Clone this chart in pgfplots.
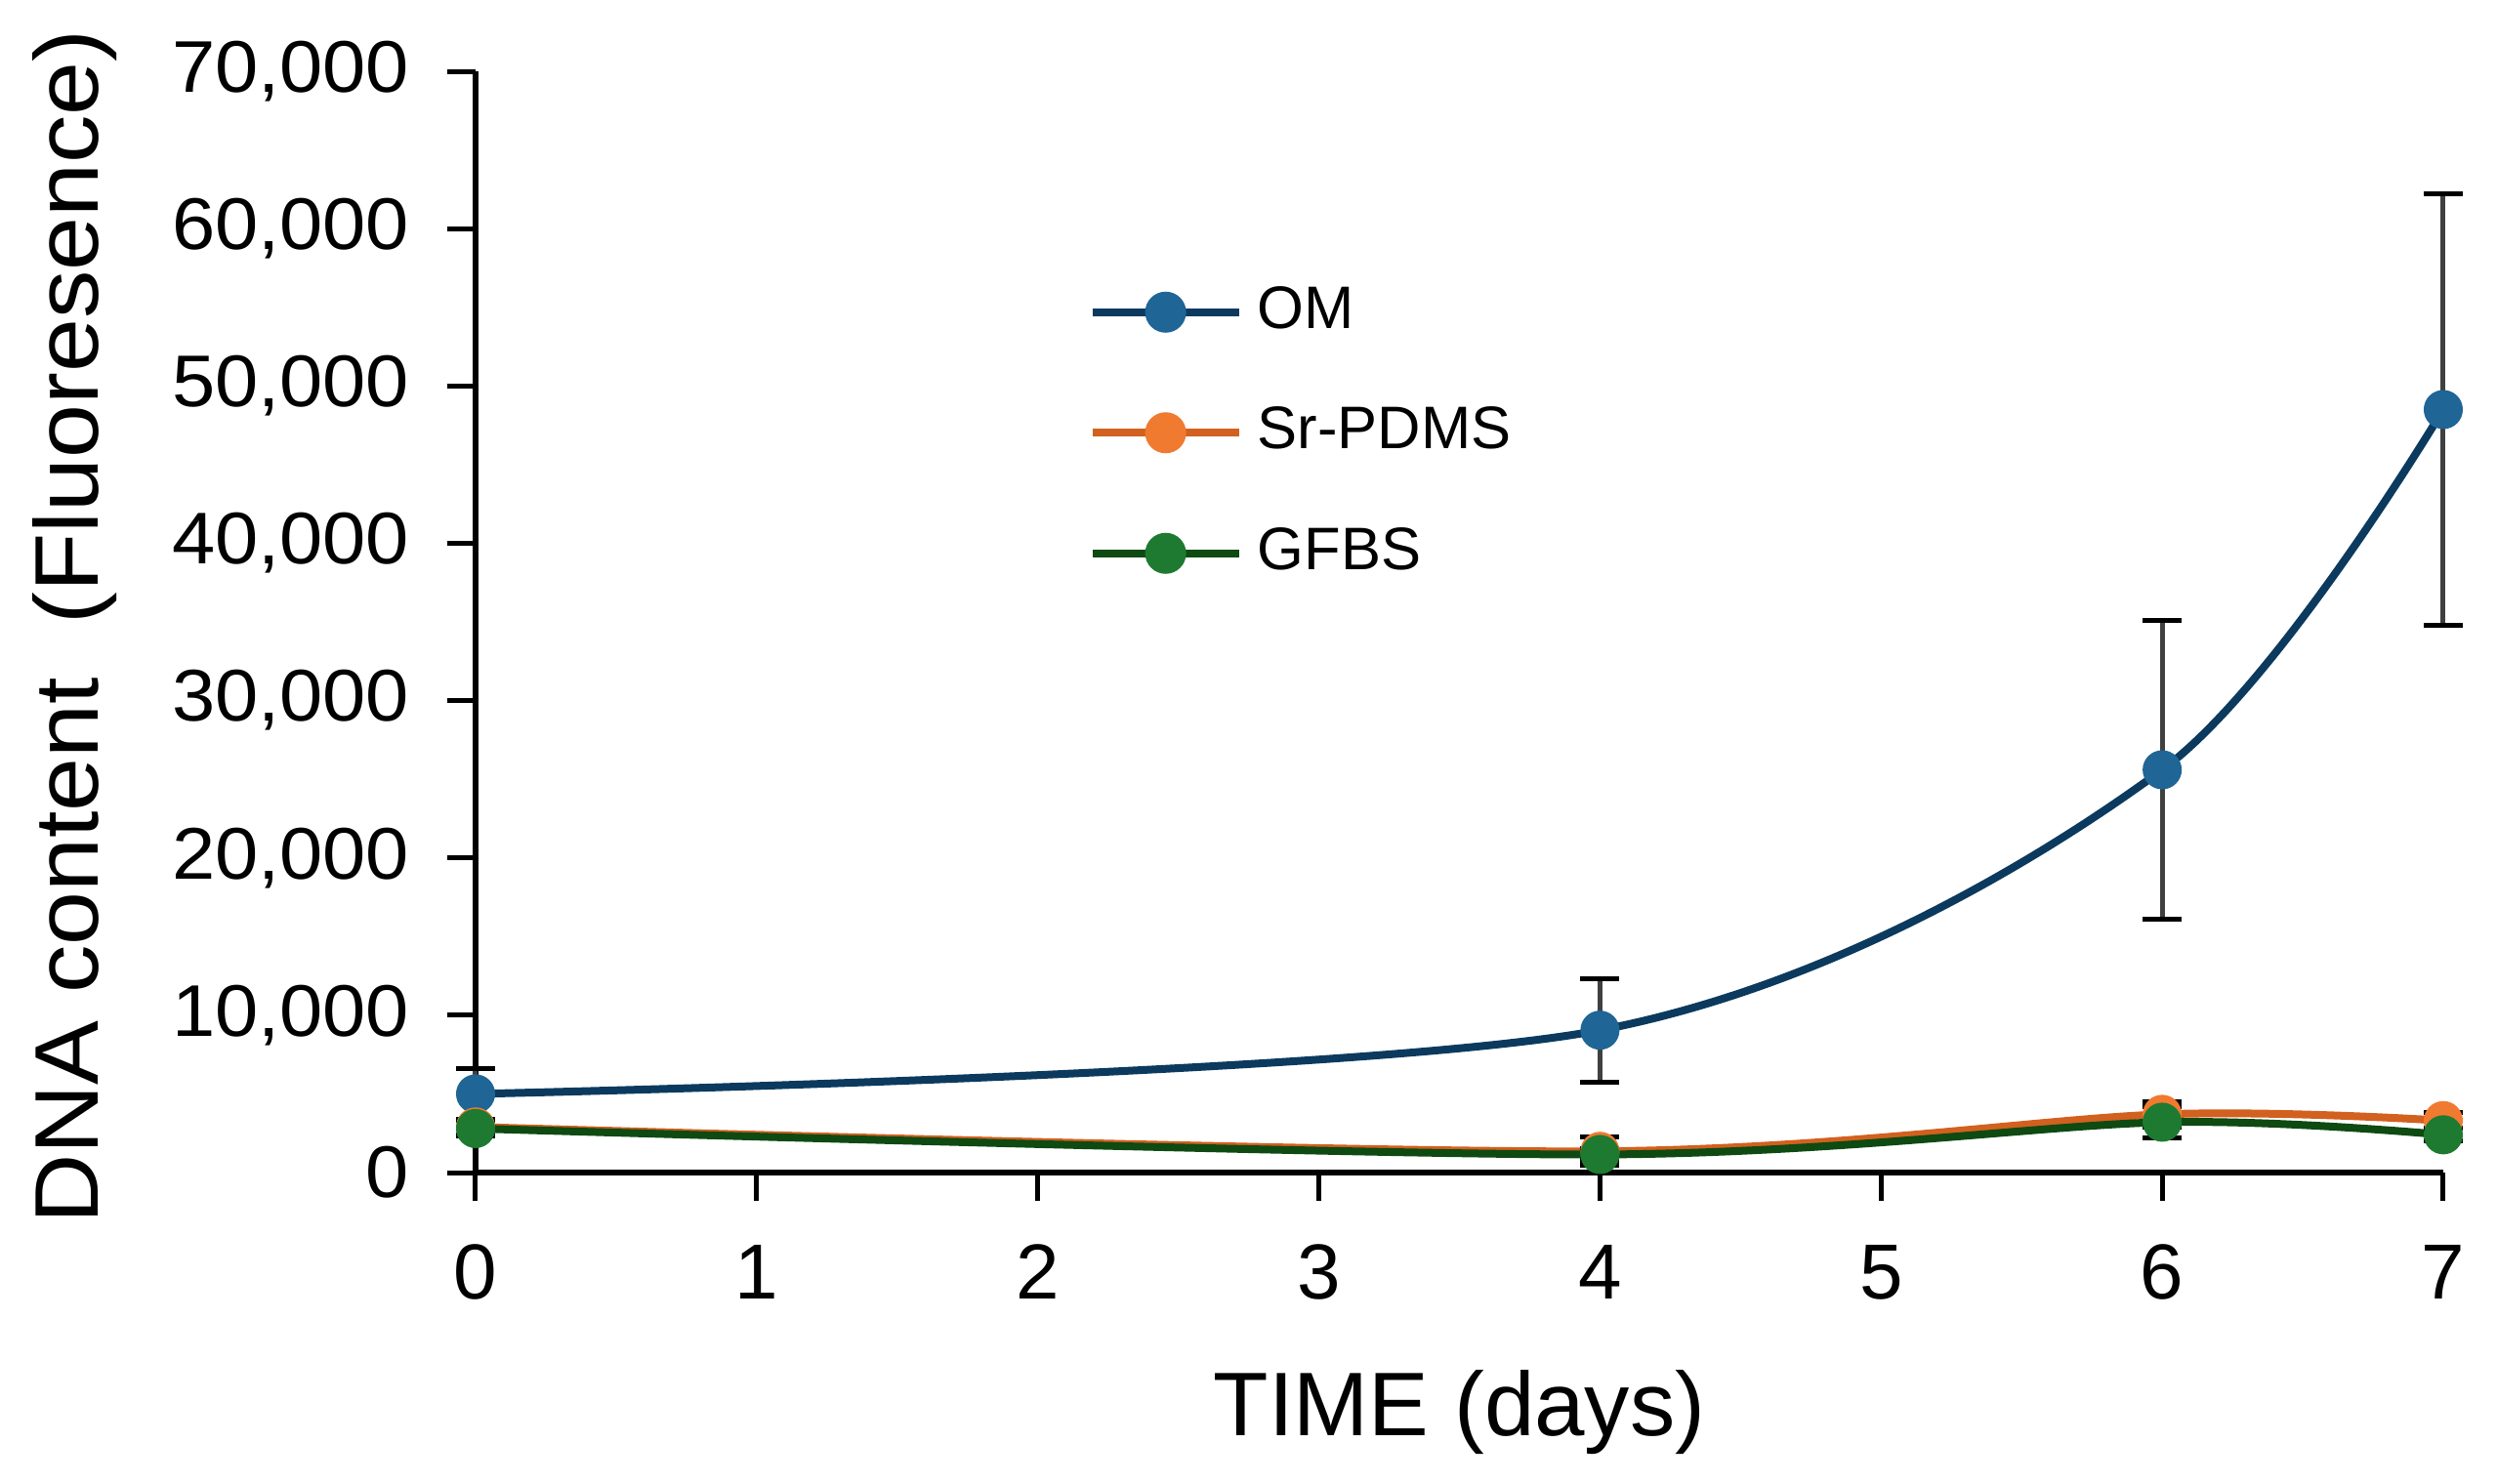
\documentclass[border=0pt]{standalone}
\usepackage{fontspec}
\setmainfont{Liberation Sans}
\usepackage{pgfplots}
\pgfplotsset{compat=1.18}

\definecolor{omline}{HTML}{0B3A5E}
\definecolor{ommark}{HTML}{1F6596}
\definecolor{srline}{HTML}{D2601E}
\definecolor{srmark}{HTML}{F07A30}
\definecolor{gfline}{HTML}{0E4A12}
\definecolor{gfmark}{HTML}{1E7A30}

\begin{document}
\begin{tikzpicture}
\useasboundingbox (-97.4bp,-63.8bp) rectangle (414bp,240.2bp);
\begin{axis}[
    at={(0,0)}, anchor=south west,
    scale only axis, width=403bp, height=225.6bp,
    xmin=0, xmax=7, ymin=0, ymax=70000,
    axis lines=left,
    axis line style={-, line width=1.2bp, black},
    xtick={0,1,...,7},
    ytick={0,10000,...,70000},
    scaled y ticks=false,
    tick align=outside,
    major tick length=5.8bp,
    tick style={line width=1bp, black},
    /pgf/number format/assume math mode=true,
    /pgf/number format/1000 sep={,},
    yticklabel style={font=\fontsize{15bp}{17bp}\selectfont, xscale=1.06, xshift=-3.8bp},
    xticklabel style={font=\fontsize{16bp}{18bp}\selectfont, yshift=-5.5bp},
    label style={font=\fontsize{18.5bp}{22bp}\selectfont},
    xlabel={TIME (days)},
    ylabel={DNA content~ (Fluoresence)},
    xlabel style={at={(axis description cs:0.5,-0.2385)}, anchor=base},
    ylabel style={at={(axis description cs:-0.2035,0.4956)}, anchor=center, xscale=1.067},
    clip=false,
    legend cell align=left,
    legend style={at={(axis description cs:0.311,0.8165)}, anchor=north west,
        draw=none, fill=none, inner sep=0pt, row sep=9.2bp,
        font=\fontsize{12.3bp}{14bp}\selectfont,
        nodes={text height=9bp, text depth=2.5bp, inner sep=2bp}},
    legend image code/.code={%
        \draw[mark repeat=2, mark phase=2, #1, mark size=3.4bp]
            plot coordinates {(0bp,0bp) (15bp,0bp) (30bp,0bp)};
        \path (31bp,0bp);},
]
\addplot[omline, line width=1.6bp, smooth, mark=*, mark size=3.2bp,
    mark options={draw=ommark, fill=ommark},
    error bars/.cd, y dir=both, y explicit,
    error bar style={line width=1bp, black!75},
    error mark options={rotate=90, mark size=4bp, line width=1bp, black}]
coordinates {
    (0,5000)  +- (0,1600)
    (4,9050)  +- (0,3300)
    (6,25600) +- (0,9500)
    (7,48500) +- (0,13700)
};
\addlegendentry{OM}

\addplot[srline, line width=1.6bp, smooth, mark=*, mark size=3.2bp,
    mark options={draw=srmark, fill=srmark},
    error bars/.cd, y dir=both, y explicit,
    error bar style={line width=1bp, black!75},
    error mark options={rotate=90, mark size=4bp, line width=1bp, black}]
coordinates {
    (0,2900) +- (0,500)
    (4,1350) +- (0,900)
    (6,3700) +- (0,800)
    (7,3300) +- (0,500)
};
\addlegendentry{Sr-PDMS}

\addplot[gfline, line width=1.6bp, smooth, mark=*, mark size=3.2bp,
    mark options={draw=gfmark, fill=gfmark},
    error bars/.cd, y dir=both, y explicit,
    error bar style={line width=1bp, black!75},
    error mark options={rotate=90, mark size=4bp, line width=1bp, black}]
coordinates {
    (0,2800) +- (0,500)
    (4,1150) +- (0,400)
    (6,3200) +- (0,1000)
    (7,2400) +- (0,400)
};
\addlegendentry{GFBS}
\end{axis}
\end{tikzpicture}
\end{document}
